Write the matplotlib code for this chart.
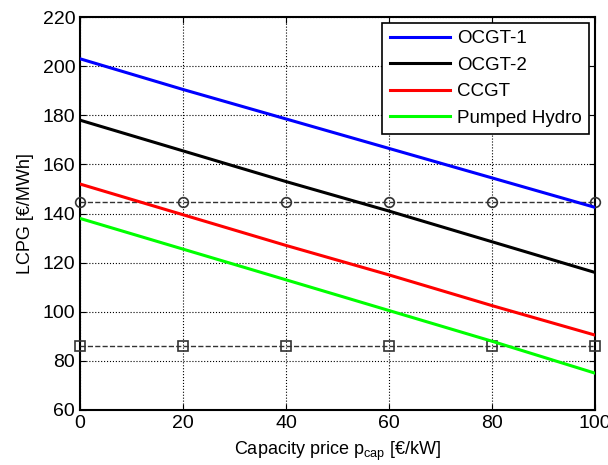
import matplotlib
matplotlib.use('Agg')
import matplotlib.pyplot as plt
import numpy as np

plt.rcParams['font.family'] = ['Liberation Sans', 'DejaVu Sans']

# capacity price values
p_cap = [0, 20, 40, 60, 80, 100]

# LCPG values
ocgt1 = [203, 190.5, 178.5, 166.5, 154.5, 142.5]
ocgt2 = [178, 165.5, 153, 141, 128.5, 116]
ccgt = [152, 139.5, 127, 115, 102.5, 90.5]
hydro = [138, 125.5, 113, 100.5, 88, 75]

# reference levels (horizontal dashed lines)
ref_circle = [144.5] * 6
ref_square = [86] * 6

fig = plt.figure(figsize=(6.08, 4.65), dpi=100)
ax = fig.add_axes([0.1316, 0.1183, 0.8470, 0.8451])

ax.plot(p_cap, ref_circle, '--', color='#333333', lw=1, marker='o', ms=7,
        mfc='none', mec='#333333', mew=1.2, clip_on=False, zorder=3)
ax.plot(p_cap, ref_square, '--', color='#333333', lw=1, marker='s', ms=7,
        mfc='none', mec='#333333', mew=1.2, clip_on=False, zorder=3)

ax.plot(p_cap, ocgt1, color='#0000ff', lw=2.2, label='OCGT-1', zorder=4)
ax.plot(p_cap, ocgt2, color='black', lw=2.2, label='OCGT-2', zorder=4)
ax.plot(p_cap, ccgt, color='#ff0000', lw=2.2, label='CCGT', zorder=4)
ax.plot(p_cap, hydro, color='#00ff00', lw=2.2, label='Pumped Hydro', zorder=4)

ax.set_xlim(0, 100)
ax.set_ylim(60, 220)
ax.set_xticks(np.arange(0, 101, 20))
ax.set_yticks(np.arange(60, 221, 20))
ax.grid(True, color='black', linestyle=':', lw=0.8)
ax.tick_params(direction='in', labelsize=14, length=4, top=True, right=True)
for s in ax.spines.values():
    s.set_linewidth(1.5)

ax.set_xlabel(r'Capacity price p$_{\mathregular{cap}}$ [€/kW]', fontsize=13, labelpad=6)
ax.set_ylabel('LCPG [€/MWh]', fontsize=13, labelpad=6)

leg = ax.legend(loc='upper right', fontsize=13.5, fancybox=False, framealpha=1,
                edgecolor='black', handlelength=3.2, borderaxespad=0.3,
                handletextpad=0.4, labelspacing=0.5, borderpad=0.4)
leg.get_frame().set_linewidth(1.2)

fig.savefig('out.png', dpi=100)
